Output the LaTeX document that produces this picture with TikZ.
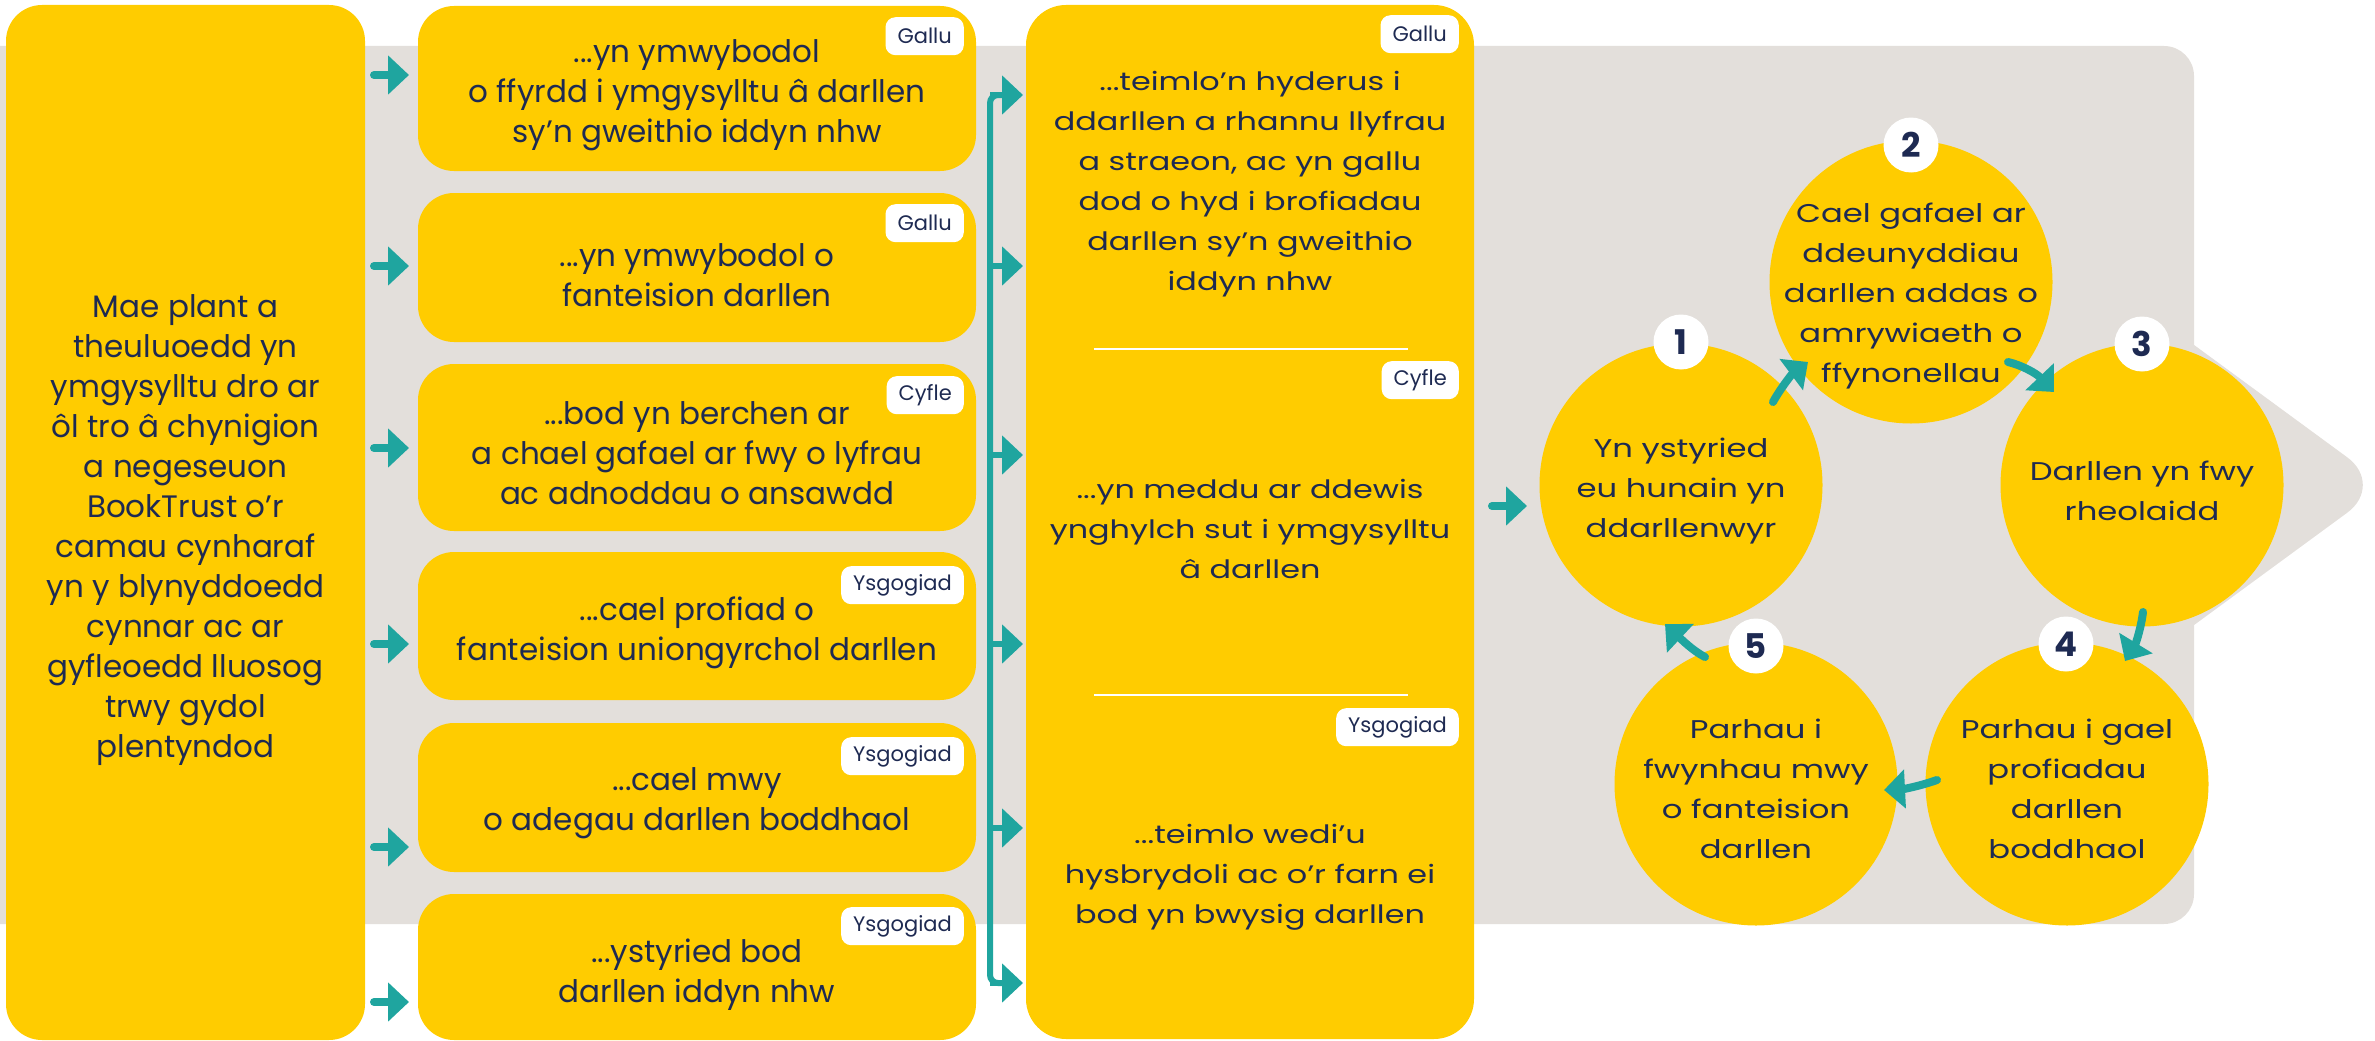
\documentclass[tikz,border=0pt]{standalone}
\usepackage{fontspec}
\setmainfont{Poppins}
\newfontfamily\widefont[FakeStretch=1.26]{Poppins}
\usetikzlibrary{arrows.meta}
\definecolor{btyellow}{HTML}{FFCC00}
\definecolor{btgray}{HTML}{E3DFDB}
\definecolor{btteal}{HTML}{1FA59F}
\definecolor{btnavy}{HTML}{1E2A52}
\begin{document}
\begin{tikzpicture}[x=1pt,y=-1pt,
  ybox/.style={fill=btyellow, rounded corners=36, inner sep=0, outer sep=0},
  txt/.style={text=btnavy, align=center, font=\fontsize{31}{40}\selectfont, inner sep=0},
  midtxt/.style={text=btnavy, align=center, font=\widefont\fontsize{25.3}{40}\selectfont, inner sep=0},
  cirtxt/.style={text=btnavy, align=center, font=\widefont\fontsize{25.6}{40}\selectfont, inner sep=0},
  tagbox/.style={fill=white, rounded corners=10, text=btnavy, font=\fontsize{21}{24}\selectfont, minimum height=38, inner xsep=12, inner ysep=0, anchor=north east},
  stub/.style={draw=btteal, line width=8, line cap=round, -{Triangle[length=21pt,width=38pt]}},
  branch/.style={draw=btteal, line width=6, -{Triangle[length=21pt,width=38pt]}},
  cyc/.style={draw=btteal, line width=8, line cap=round, -{Triangle[length=21pt,width=38pt]}},
  ycirc/.style={circle, fill=btyellow, minimum size=283, inner sep=0},
  badge/.style={circle, fill=white, minimum size=55, inner sep=0, text=btnavy, font=\fontsize{34}{34}\selectfont\bfseries},
  divider/.style={draw=white, line width=2}
]
\useasboundingbox (0,0) rectangle (2375,1041);
% background band and chevron
\fill[btgray, rounded corners=30] (-60,46) rectangle (2194,924);
\fill[btgray, rounded corners=47] (2100,276) -- (2385,485) -- (2100,694) -- cycle;

% left box
\node[ybox, minimum width=359, minimum height=1035] (L) at (185.5,522.5) {};
\node[txt] (Lt) at (185.5,530) {Mae plant a\\theuluoedd yn\\ymgysylltu dro ar\\ôl tro â chynigion\\a negeseuon\\BookTrust o’r\\camau cynharaf\\yn y blynyddoedd\\cynnar ac ar\\gyfleoedd lluosog\\trwy gydol\\plentyndod};

% column of outcome boxes
\node[ybox, minimum width=558, minimum height=165] (b1) at (697,88.5) {};
\node[ybox, minimum width=558, minimum height=149] (b2) at (697,267.5) {};
\node[ybox, minimum width=558, minimum height=167] (b3) at (697,447.5) {};
\node[ybox, minimum width=558, minimum height=148] (b4) at (697,626) {};
\node[ybox, minimum width=558, minimum height=149] (b5) at (697,797.5) {};
\node[ybox, minimum width=558, minimum height=146] (b6) at (697,967) {};

\node[txt] (b1t) at (697,95) {...yn ymwybodol\\o ffyrdd i ymgysylltu â darllen\\sy’n gweithio iddyn nhw};
\node[txt] (b2t) at (697,275) {...yn ymwybodol o\\fanteision darllen};
\node[txt] (b3t) at (697,453) {...bod yn berchen ar\\a chael gafael ar fwy o lyfrau\\ac adnoddau o ansawdd};
\node[txt] (b4t) at (697,633) {...cael profiad o\\fanteision uniongyrchol darllen};
\node[txt] (b5t) at (697,803) {...cael mwy\\o adegau darllen boddhaol};
\node[txt] (b6t) at (697,975) {...ystyried bod\\darllen iddyn nhw};

\node[tagbox] (g1) at (964,17) {Gallu};
\node[tagbox] (g2) at (964,204) {Gallu};
\node[tagbox] (g3) at (964,376) {Cyfle};
\node[tagbox] (g4) at (964,566) {Ysgogiad};
\node[tagbox] (g5) at (964,737) {Ysgogiad};
\node[tagbox] (g6) at (964,907) {Ysgogiad};

% stub arrows from left box
\coordinate (s1a) at (374,75);   \coordinate (s1b) at (409,75);
\coordinate (s2a) at (374,266);  \coordinate (s2b) at (409,266);
\coordinate (s3a) at (374,448);  \coordinate (s3b) at (409,448);
\coordinate (s4a) at (374,644);  \coordinate (s4b) at (409,644);
\coordinate (s5a) at (374,847);  \coordinate (s5b) at (409,847);
\coordinate (s6a) at (374,1002); \coordinate (s6b) at (409,1002);
\foreach \i in {1,...,6} {\draw[stub] (s\i a) -- (s\i b);}

% middle box
\node[ybox, rounded corners=40, minimum width=448, minimum height=1034] (M) at (1250,522) {};
\draw[divider] (1094,349) -- (1408,349);
\draw[divider] (1094,695) -- (1408,695);
\node[midtxt] (m1t) at (1250,184) {...teimlo’n hyderus i\\ddarllen a rhannu llyfrau\\a straeon, ac yn gallu\\dod o hyd i brofiadau\\darllen sy’n gweithio\\iddyn nhw};
\node[midtxt] (m2t) at (1250,529) {...yn meddu ar ddewis\\ynghylch sut i ymgysylltu\\â darllen};
\node[midtxt] (m3t) at (1250,877) {...teimlo wedi’u\\hysbrydoli ac o’r farn ei\\bod yn bwysig darllen};
\node[tagbox] (h1) at (1459,15) {Gallu};
\node[tagbox] (h2) at (1459,361) {Cyfle};
\node[tagbox] (h3) at (1459,708) {Ysgogiad};

% trunk with branches into middle box
\coordinate (tTop) at (990,95);
\coordinate (tBot) at (990,983);
\draw[draw=btteal, line width=6, rounded corners=8] (1004,95) -- (tTop) -- (tBot) -- (1004,983);
\foreach \yy/\n in {95/1,266/2,455/3,644/4,828/5,983/6} {
  \coordinate (r\n a) at (990,\yy);
  \coordinate (r\n b) at (1023,\yy);
  \draw[branch] (r\n a) -- (r\n b);
}

% arrow into cycle
\coordinate (ca) at (1492,506);
\coordinate (cb) at (1527,506);
\draw[stub] (ca) -- (cb);

% cycle circles
\node[ycirc] (c1) at (1681,485) {};
\node[ycirc] (c2) at (1911,282) {};
\node[ycirc] (c3) at (2142,485) {};
\node[ycirc] (c4) at (2067,784) {};
\node[ycirc] (c5) at (1756,784) {};

\node[cirtxt] (c1t) at (1681,491) {Yn ystyried\\eu hunain yn\\ddarllenwyr};
\node[cirtxt] (c2t) at (1911,296) {Cael gafael ar\\ddeunyddiau\\darllen addas o\\amrywiaeth o\\ffynonellau};
\node[cirtxt] (c3t) at (2142,491) {Darllen yn fwy\\rheolaidd};
\node[cirtxt] (c4t) at (2067,789) {Parhau i gael\\profiadau\\darllen\\boddhaol};
\node[cirtxt] (c5t) at (1756,789) {Parhau i\\fwynhau mwy\\o fanteision\\darllen};

\node[badge] (n1) at (1681,342) {1};
\node[badge] (n2) at (1911,145) {2};
\node[badge] (n3) at (2142,344) {3};
\node[badge] (n4) at (2066,644) {4};
\node[badge] (n5) at (1756,646) {5};

% cycle arrows
\coordinate (a12) at (1773,402); \coordinate (e12) at (1808,362);
\coordinate (a23) at (2008,362); \coordinate (e23) at (2054,392);
\coordinate (a34) at (2143,612); \coordinate (e34) at (2125,661);
\coordinate (a45) at (1937,780); \coordinate (e45) at (1884,790);
\coordinate (a51) at (1705,657); \coordinate (e51) at (1665,624);
\draw[cyc] (a12) .. controls (1780,389) and (1792,374) .. (e12);
\draw[cyc] (a23) .. controls (2021,365) and (2036,373) .. (e23);
\draw[cyc] (a34) .. controls (2141,628) and (2136,643) .. (e34);
\draw[cyc] (a45) .. controls (1920,786) and (1904,789) .. (e45);
\draw[cyc] (a51) .. controls (1693,651) and (1680,638) .. (e51);
\end{tikzpicture}
\end{document}
